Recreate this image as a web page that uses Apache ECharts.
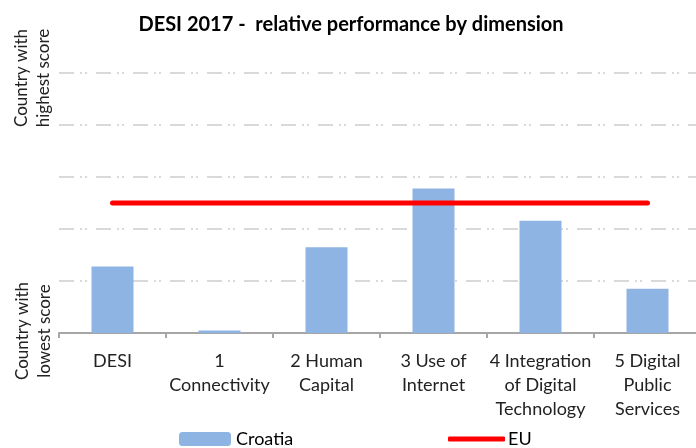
<!DOCTYPE html>
<html>
<head>
<meta charset="utf-8">
<script src="https://cdn.jsdelivr.net/npm/echarts@6/dist/echarts.min.js"></script>
<style>
html,body{margin:0;padding:0;background:#fff;overflow:hidden;}
#chart{width:702px;height:448px;}
</style>
</head>
<body>
<div id="chart"></div>
<script>
var categories = ['DESI', '1\nConnectivity', '2 Human\nCapital', '3 Use of\nInternet', '4 Integration\nof Digital\nTechnology', '5 Digital\nPublic\nServices'];
var croatiaValues = [1.28, 0.05, 1.65, 2.78, 2.16, 0.85];
var euValues = [2.5, 2.5, 2.5, 2.5, 2.5, 2.5];
var yTopLabel = 'Country with\nhighest score';
var yBottomLabel = 'Country with\nlowest score';
var titleText = 'DESI 2017 -  relative performance by dimension';

var FONT = 'Lato, "Open Sans", sans-serif';
var chart = echarts.init(document.getElementById('chart'), null, {renderer: 'canvas'});
chart.setOption({
  animation: false,
  backgroundColor: '#ffffff',
  title: {
    text: titleText,
    left: 'center',
    top: 15,
    padding: 0,
    textStyle: {fontFamily: FONT, fontSize: 20, fontWeight: 'bold', color: '#000'}
  },
  grid: {left: 59, top: 73, right: 1, bottom: 115, containLabel: false},
  legend: [{
    data: ['Croatia'],
    left: 179,
    top: 430,
    padding: 0,
    itemWidth: 52,
    itemHeight: 14,
    itemGap: 6,
    textStyle: {fontFamily: FONT, fontSize: 18, color: '#000'}
  }, {
    data: [{name: 'EU', icon: 'roundRect'}],
    left: 448,
    top: 430,
    padding: 0,
    itemWidth: 57,
    itemHeight: 5,
    textStyle: {fontFamily: FONT, fontSize: 18, color: '#000', padding: [0, 0, 0, -2]}
  }],
  xAxis: {
    type: 'category',
    data: categories,
    boundaryGap: true,
    axisLine: {lineStyle: {color: '#A6A6A6', width: 2}},
    axisTick: {show: true, interval: 0, length: 5, lineStyle: {color: '#A6A6A6', width: 2}},
    axisLabel: {interval: 0, fontFamily: FONT, fontSize: 18, color: '#222', lineHeight: 24, margin: 16}
  },
  yAxis: {
    type: 'value',
    min: 0, max: 5, interval: 1,
    axisLine: {show: false},
    axisTick: {show: false},
    axisLabel: {show: false},
    splitLine: {show: true, lineStyle: {color: '#D9D9D9', width: 2, type: [15, 6, 2, 3, 2, 9]}}
  },
  graphic: [{
    type: 'text', x: 33, y: 78, rotation: Math.PI / 2,
    style: {text: yTopLabel, font: '17px ' + FONT, fill: '#222', align: 'center', verticalAlign: 'middle', lineHeight: 22}
  }, {
    type: 'text', x: 34, y: 331, rotation: Math.PI / 2,
    style: {text: yBottomLabel, font: '17px ' + FONT, fill: '#222', align: 'center', verticalAlign: 'middle', lineHeight: 22}
  }],
  series: [{
    name: 'Croatia',
    type: 'bar',
    data: croatiaValues,
    barWidth: 42,
    itemStyle: {color: '#8EB4E3'},
    z: 2
  }, {
    name: 'EU',
    type: 'line',
    data: euValues,
    symbol: 'none',
    lineStyle: {color: '#FF0000', width: 5, cap: 'round'},
    itemStyle: {color: '#FF0000'},
    z: 3
  }]
});
</script>
</body>
</html>
